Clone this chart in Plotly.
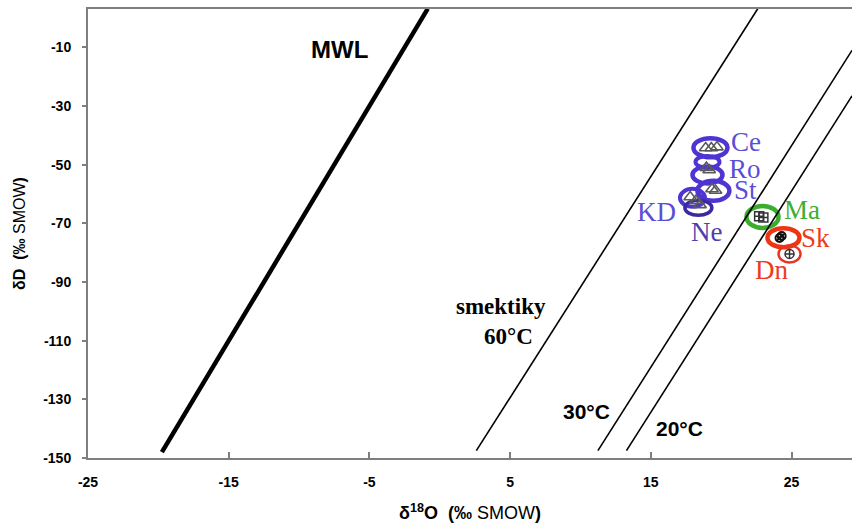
import plotly.graph_objects as go

# ---- data ----
# Meteoric water line and smectite equilibrium lines (endpoints, d18O / dD)
mwl_x = [-19.75, -0.85]
mwl_y = [-148.0, 3.2]
smec60_x = [2.6, 22.6]
smec60_y = [-147.5, 3.2]
smec30_x = [11.24, 29.3]
smec30_y = [-147.5, -11.0]
smec20_x = [13.27, 29.3]
smec20_y = [-147.5, -26.5]

# sample groups (ellipse centers)
groups = ["Ce", "Ro", "St", "KD", "Ne", "Ma", "Sk", "Dn"]
group_x = [19.24, 19.03, 19.45, 17.96, 18.38, 22.94, 24.43, 24.86]
group_y = [-44.2, -52.1, -58.9, -61.3, -64.7, -67.8, -74.9, -80.4]

# individual analyses inside groups
tri_x = [18.9, 19.3, 19.7, 18.95, 19.15, 19.35, 19.6, 17.8, 18.2, 18.5]
tri_y = [-44.3, -44.3, -44.0, -51.0, -51.8, -58.3, -58.8, -61.0, -62.3, -63.7]
sq_x = [22.7, 23.0]
sq_y = [-67.6, -68.0]
sk_x = [24.15, 24.3]
sk_y = [-75.0, -74.3]
dn_x = [24.86]
dn_y = [-80.4]

x_ticks = [-25, -15, -5, 5, 15, 25]
y_ticks = [-10, -30, -50, -70, -90, -110, -130, -150]

# ---- styles ----
ring_w = [34, 30, 32, 25, 27, 32, 32, 22]
ring_h = [19, 17, 20, 18, 15, 22, 19, 17]
ring_dy = [0, -4, 0, 0, 0, 0, 0, 0]
ring_col = ["#4e34d2", "#4e34d2", "#4e34d2", "#4e34d2", "#3b2a9e", "#3aae2c", "#ee3412", "#ea3322"]
ring_lw = [4.5, 4.5, 4.5, 4, 3.5, 4.5, 4.5, 2.5]
lab_col = ["#5a4ed6", "#5a4ed6", "#5a4ed6", "#5a4ed6", "#4c3fb0", "#3fae35", "#ee3a20", "#ee3a20"]
lab_anchor = ["left", "left", "left", "right", "center", "left", "left", "center"]
lab_dx = [19, 19, 19, -14, 8, 19, 16, -18]
lab_dy = [6, 2, 1, -14, -24, 7, 0, -16]

fig = go.Figure()

line_sets = [(mwl_x, mwl_y, 4.5), (smec60_x, smec60_y, 1.6),
             (smec30_x, smec30_y, 1.6), (smec20_x, smec20_y, 1.6)]
for lx, ly, lw in line_sets:
    fig.add_trace(go.Scatter(x=lx, y=ly, mode="lines",
                             line=dict(color="black", width=lw),
                             showlegend=False, hoverinfo="skip"))

fig.add_trace(go.Scatter(x=tri_x, y=tri_y, mode="markers",
                         marker=dict(symbol="triangle-up-open", size=11,
                                     color="#5a5a5a", line=dict(width=1.6)),
                         showlegend=False))
fig.add_trace(go.Scatter(x=sq_x, y=sq_y, mode="markers",
                         marker=dict(symbol="square-cross-open", size=9,
                                     color="#333333", line=dict(width=1.5)),
                         showlegend=False))
fig.add_trace(go.Scatter(x=sk_x, y=sk_y, mode="markers",
                         marker=dict(symbol="circle-x-open", size=8,
                                     color="#111111", line=dict(width=2)),
                         showlegend=False))
fig.add_trace(go.Scatter(x=dn_x, y=dn_y, mode="markers",
                         marker=dict(symbol="circle-cross-open", size=9,
                                     color="#333333", line=dict(width=1.5)),
                         showlegend=False))

for i, g in enumerate(groups):
    fig.add_shape(type="circle", xref="x", yref="y",
                  xsizemode="pixel", ysizemode="pixel",
                  xanchor=group_x[i], yanchor=group_y[i],
                  x0=-ring_w[i] / 2, x1=ring_w[i] / 2,
                  y0=ring_dy[i] - ring_h[i] / 2, y1=ring_dy[i] + ring_h[i] / 2,
                  line=dict(color=ring_col[i], width=ring_lw[i]),
                  layer="below")
    if g == "Ro":
        # upper lobe of the figure-eight ring
        fig.add_shape(type="circle", xref="x", yref="y",
                      xsizemode="pixel", ysizemode="pixel",
                      xanchor=group_x[i], yanchor=group_y[i],
                      x0=-12, x1=12, y0=3, y1=15,
                      line=dict(color=ring_col[i], width=4),
                      layer="below")
    fig.add_annotation(x=group_x[i], y=group_y[i], text=g, showarrow=False,
                       xanchor=lab_anchor[i], yanchor="middle",
                       xshift=lab_dx[i], yshift=lab_dy[i],
                       font=dict(family="Liberation Serif", size=27, color=lab_col[i]))

# line labels
fig.add_annotation(x=-7.15, y=-10.8, text="<b>MWL</b>", showarrow=False,
                   font=dict(family="Liberation Sans", size=24, color="black"))
fig.add_annotation(x=7.72, y=-98.5, text="<b>smektiky</b>", showarrow=False, xanchor="right",
                   font=dict(family="Liberation Serif", size=23, color="black"))
fig.add_annotation(x=6.79, y=-108.7, text="<b>60°C</b>", showarrow=False, xanchor="right",
                   font=dict(family="Liberation Serif", size=23, color="black"))
fig.add_annotation(x=10.42, y=-134.3, text="<b>30°C</b>", showarrow=False,
                   font=dict(family="Liberation Sans", size=21, color="black"))
fig.add_annotation(x=17.03, y=-140.1, text="<b>20°C</b>", showarrow=False,
                   font=dict(family="Liberation Sans", size=21, color="black"))

axis_font = dict(family="Liberation Sans", size=14, color="black")
fig.update_xaxes(range=[-25, 29.3], showgrid=False, zeroline=False, automargin=False,
                 showline=True, linecolor="#7f7f7f", linewidth=2, mirror=True,
                 ticks="inside", ticklen=6, tickcolor="#7f7f7f", tickwidth=1.5,
                 tickvals=x_ticks, ticktext=[f"<b>{v}</b>" for v in x_ticks],
                 tickfont=axis_font, ticklabelstandoff=10,
                 title=dict(text="<b>δ<sup>18</sup>O  (‰</b> SMOW<b>)</b>",
                            font=dict(family="Liberation Sans", size=18, color="black"),
                            standoff=18))
fig.update_yaxes(range=[-150, 3.1], showgrid=False, zeroline=False, automargin=False,
                 showline=True, linecolor="#7f7f7f", linewidth=2,
                 ticks="outside", ticklen=4, tickcolor="#7f7f7f", tickwidth=1.5,
                 tickvals=y_ticks, ticktext=[f"<b>{v}</b>" for v in y_ticks],
                 tickfont=axis_font, ticklabelstandoff=8,
                 title=dict(text="<b>δD  (‰</b> SMOW<b>)</b>",
                            font=dict(family="Liberation Sans", size=16, color="black"),
                            standoff=14))

fig.update_layout(width=852, height=530,
                  margin=dict(l=88, r=0, t=9, b=72),
                  plot_bgcolor="white", paper_bgcolor="white",
                  showlegend=False)

fig.write_html("out.html", config={"displayModeBar": False},
               post_script="document.body.style.margin='0';")
